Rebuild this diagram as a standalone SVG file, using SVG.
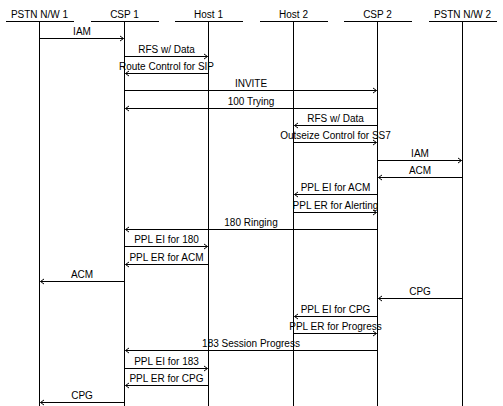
<svg xmlns="http://www.w3.org/2000/svg" width="503" height="406" viewBox="0 0 503 406">
<defs>
<style>
text{font-family:"Liberation Sans",Arial,sans-serif;font-size:10px;fill:#000;text-anchor:middle}
.ln{stroke:#000;stroke-width:1;fill:none;shape-rendering:crispEdges}
.msg{stroke:#000;stroke-width:1;fill:none;marker-end:url(#ah)}
</style>
<marker id="ah" markerUnits="userSpaceOnUse" markerWidth="8" markerHeight="8" refX="0" refY="0" viewBox="-5 -4 6 8" orient="auto" overflow="visible">
<path d="M-3.5,-2.5 L0,0 L-3.5,2.5" fill="none" stroke="#000" stroke-width="1"/>
</marker>
</defs>
<rect width="503" height="406" fill="#fff"/>
<g id="pstn1"><line class="ln" x1="5.5" y1="21.5" x2="73.5" y2="21.5"/><line class="ln" x1="39.5" y1="21.5" x2="39.5" y2="406"/><text x="39.5" y="18">PSTN N/W 1</text></g>
<g id="csp1"><line class="ln" x1="90.5" y1="21.5" x2="158.5" y2="21.5"/><line class="ln" x1="124.5" y1="21.5" x2="124.5" y2="406"/><text x="124.5" y="18">CSP 1</text></g>
<g id="host1"><line class="ln" x1="174.5" y1="21.5" x2="242.5" y2="21.5"/><line class="ln" x1="208.5" y1="21.5" x2="208.5" y2="406"/><text x="208.5" y="18">Host 1</text></g>
<g id="host2"><line class="ln" x1="259.5" y1="21.5" x2="327.5" y2="21.5"/><line class="ln" x1="293.5" y1="21.5" x2="293.5" y2="406"/><text x="293.5" y="18">Host 2</text></g>
<g id="csp2"><line class="ln" x1="343.5" y1="21.5" x2="411.5" y2="21.5"/><line class="ln" x1="377.5" y1="21.5" x2="377.5" y2="406"/><text x="377.5" y="18">CSP 2</text></g>
<g id="pstn2"><line class="ln" x1="428.5" y1="21.5" x2="496.5" y2="21.5"/><line class="ln" x1="462.5" y1="21.5" x2="462.5" y2="406"/><text x="462.5" y="18">PSTN N/W 2</text></g>
<g id="connectors">
<line class="msg" x1="39.5" y1="38.5" x2="123.5" y2="38.5"/><text x="82" y="35">IAM</text>
<line class="msg" x1="124.5" y1="56.5" x2="207.5" y2="56.5"/><text x="166.5" y="53">RFS w/ Data</text>
<line class="msg" x1="208.5" y1="73.5" x2="125.5" y2="73.5"/><text x="166.5" y="70">Route Control for SIP</text>
<line class="msg" x1="124.5" y1="90.5" x2="376.5" y2="90.5"/><text x="251" y="87">INVITE</text>
<line class="msg" x1="377.5" y1="108.5" x2="125.5" y2="108.5"/><text x="251" y="105">100 Trying</text>
<line class="msg" x1="377.5" y1="125.5" x2="294.5" y2="125.5"/><text x="335.5" y="122">RFS w/ Data</text>
<line class="msg" x1="293.5" y1="142.5" x2="376.5" y2="142.5"/><text x="335.5" y="139">Outseize Control for SS7</text>
<line class="msg" x1="377.5" y1="160.5" x2="461.5" y2="160.5"/><text x="420" y="157">IAM</text>
<line class="msg" x1="462.5" y1="177.5" x2="378.5" y2="177.5"/><text x="420" y="174">ACM</text>
<line class="msg" x1="377.5" y1="194.5" x2="294.5" y2="194.5"/><text x="335.5" y="191">PPL EI for ACM</text>
<line class="msg" x1="293.5" y1="212.5" x2="376.5" y2="212.5"/><text x="335.5" y="209">PPL ER for Alerting</text>
<line class="msg" x1="377.5" y1="229.5" x2="125.5" y2="229.5"/><text x="251" y="226">180 Ringing</text>
<line class="msg" x1="124.5" y1="246.5" x2="207.5" y2="246.5"/><text x="166.5" y="243">PPL EI for 180</text>
<line class="msg" x1="208.5" y1="264.5" x2="125.5" y2="264.5"/><text x="166.5" y="261">PPL ER for ACM</text>
<line class="msg" x1="124.5" y1="281.5" x2="40.5" y2="281.5"/><text x="82" y="278">ACM</text>
<line class="msg" x1="462.5" y1="298.5" x2="378.5" y2="298.5"/><text x="420" y="295">CPG</text>
<line class="msg" x1="377.5" y1="316.5" x2="294.5" y2="316.5"/><text x="335.5" y="313">PPL EI for CPG</text>
<line class="msg" x1="293.5" y1="333.5" x2="376.5" y2="333.5"/><text x="335.5" y="330">PPL ER for Progress</text>
<line class="msg" x1="377.5" y1="350.5" x2="125.5" y2="350.5"/><text x="251" y="347">183 Session Progress</text>
<line class="msg" x1="124.5" y1="368.5" x2="207.5" y2="368.5"/><text x="166.5" y="365">PPL EI for 183</text>
<line class="msg" x1="208.5" y1="385.5" x2="125.5" y2="385.5"/><text x="166.5" y="382">PPL ER for CPG</text>
<line class="msg" x1="124.5" y1="402.5" x2="40.5" y2="402.5"/><text x="82" y="399">CPG</text>
</g>
</svg>
